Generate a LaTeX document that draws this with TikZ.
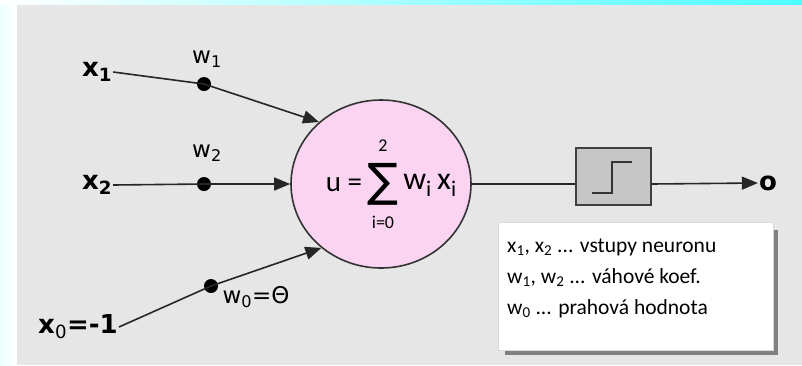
\documentclass[tikz,border=0pt]{standalone}
\usepackage{fontspec}
\setmainfont{DejaVu Sans}
\newfontfamily\carlitofont{Carlito}
\usetikzlibrary{arrows.meta,shapes.geometric}
\definecolor{panel}{HTML}{E6E6E6}
\definecolor{pinkfill}{HTML}{FAD4F0}
\definecolor{stepgray}{HTML}{C6C6C6}
\tikzset{
  conn/.style={line width=1.6pt, draw=black!85},
  arr/.style={conn, -{Triangle[length=16pt,width=13pt]}},
  wdot/.style={circle, fill=black, inner sep=0pt, minimum size=14pt},
  inlab/.style={font=\fontsize{26}{28}\selectfont\bfseries, inner sep=1pt},
  wlab/.style={font=\fontsize{23}{25}\selectfont, inner sep=1pt},
  formula/.style={font=\carlitofont\fontsize{29}{30}\selectfont, inner sep=0pt},
  limits/.style={font=\carlitofont\fontsize{18}{18}\selectfont, inner sep=0pt},
}
\begin{document}
\begin{tikzpicture}[x=1pt,y=-1pt]
\useasboundingbox (0,0) rectangle (802,365);
% background
\fill[cyan!6] (0,0) rectangle (802,365);
\shade[left color=white, middle color=white, right color=cyan!70] (0,0) rectangle (802,5);
\shade[left color=cyan!8, right color=white] (0,5) rectangle (17,365);
\fill[panel] (17,5) rectangle (802,365);
% neuron
\node[ellipse, draw=black!80, line width=1.6pt, fill=pinkfill, minimum width=180pt, minimum height=168pt, inner sep=0pt] (n) at (381,184) {};
\node[formula] (fu) at (344,185) {u =};
\node[font=\fontsize{46}{46}\selectfont, inner sep=0pt] (fs) at (383,184) {∑};
\node[limits] (fsup) at (383,146) {2};
\node[limits] (fsub) at (383,222) {i=0};
\node[formula, font=\carlitofont\fontsize{32}{32}\selectfont] (fw) at (430,185) {w\textsubscript{i}\,x\textsubscript{i}};
% inputs
\node[inlab] (x1) at (97,72) {x\textsubscript{1}};
\node[inlab] (x2) at (97,185) {x\textsubscript{2}};
\node[inlab] (x0) at (78,327) {x\textsubscript{\mdseries 0}=-1};
\node[wdot] (d1) at (204,84) {};
\node[wdot] (d2) at (204,184) {};
\node[wdot] (d0) at (211,286) {};
\node[wlab] (w1) at (207,59) {w\textsubscript{1}};
\node[wlab] (w2) at (207,153) {w\textsubscript{2}};
\node[wlab] (w0) at (256,297) {w\textsubscript{0}=Θ};
\draw[conn] (x1.east) -- (d1.center);
\draw[arr] (d1.center) -- (n.135);
\draw[conn] (x2.east) -- (d2.center);
\draw[arr] (d2.center) -- (n.west);
\draw[conn] (x0.east) -- (d0.center);
\draw[arr] (d0.center) -- (n.-133);
% step
\node[draw=black!75, line width=1.6pt, fill=stepgray, minimum width=75pt, minimum height=57pt, inner sep=0pt] (step) at (613.5,176.5) {};
\draw[line width=1.6pt, black!80] (592,193) -- (612,193) -- (612,162) -- (632,162);
\draw[conn] (n.east) -- (step.west |- n.east);
\node[font=\fontsize{26}{28}\selectfont\bfseries, inner sep=1pt] (o) at (768,183) {o};
\draw[arr] (step.east |- n.east) -- (o.west);
% legend
\fill[black!50] (505,230) rectangle (778,355);
\node[draw=black!15, fill=white, line width=0.5pt, minimum width=275pt, minimum height=128pt, inner sep=0pt] (leg) at (635.5,286) {};
\node[anchor=west, align=left, font=\carlitofont\fontsize{21.5}{31}\selectfont, inner sep=0pt] (legtext) at (507,278)
  {x\textsubscript{1}, x\textsubscript{2} ... vstupy neuronu\\
   w\textsubscript{1}, w\textsubscript{2} ... váhové koef.\\
   w\textsubscript{0} ... prahová hodnota};
\end{tikzpicture}
\end{document}
